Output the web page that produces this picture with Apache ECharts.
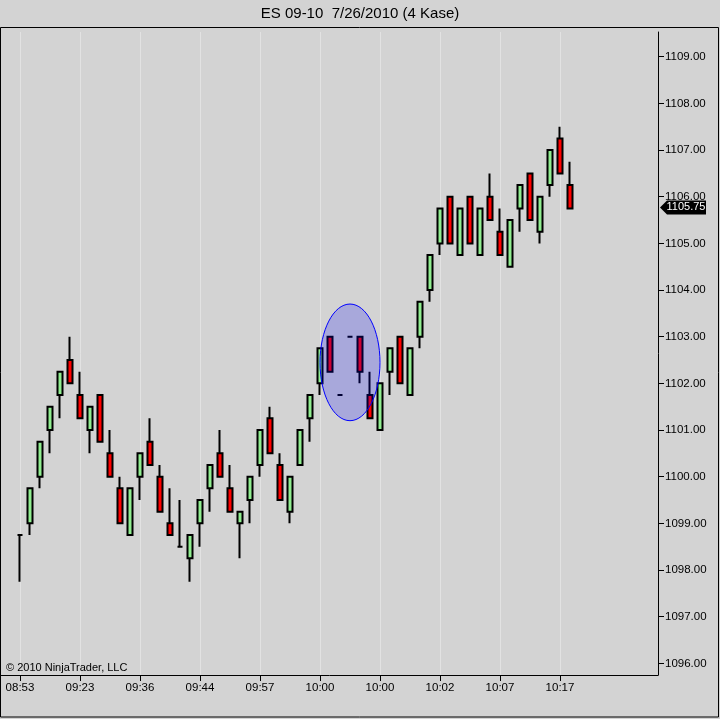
<!DOCTYPE html>
<html style="height: 100%">
<head>
    <meta charset="utf-8">
    <title>ES 09-10 7/26/2010 (4 Kase)</title>
</head>
<body style="height: 100%; margin: 0; background: #d3d3d3;">
    <div id="container" style="width: 720px; height: 719px;"></div>
    <script src="https://cdn.jsdelivr.net/npm/echarts@6/dist/echarts.min.js"></script>
    <script type="text/javascript">
        // 4 Kase bars (open / close / low / high)
        var opens = [1098.75, 1099.00, 1100.00, 1101.00, 1101.75, 1102.50, 1101.75, 1101.00, 1101.75, 1100.50,
            1099.75, 1098.75, 1100.00, 1100.75, 1100.00, 1099.00, 1098.50, 1098.25, 1099.00, 1099.75,
            1100.50, 1099.75, 1099.00, 1099.50, 1100.25, 1101.25, 1100.25, 1099.25, 1100.25, 1101.25,
            1102.00, 1103.00, 1101.75, 1103.00, 1103.00, 1101.75, 1101.00, 1102.25, 1103.00, 1101.75,
            1103.00, 1104.00, 1105.00, 1106.00, 1104.75, 1106.00, 1104.75, 1106.00, 1105.25, 1104.50,
            1105.75, 1106.50, 1105.25, 1106.25, 1107.25, 1106.25];
        var closes = [1098.75, 1099.75, 1100.75, 1101.50, 1102.25, 1102.00, 1101.25, 1101.50, 1100.75, 1100.00,
            1099.00, 1099.75, 1100.50, 1100.25, 1099.25, 1098.75, 1098.50, 1098.75, 1099.50, 1100.25,
            1100.00, 1099.25, 1099.25, 1100.00, 1101.00, 1100.50, 1099.50, 1100.00, 1101.00, 1101.75,
            1102.75, 1102.25, 1101.75, 1103.00, 1102.25, 1101.25, 1102.00, 1102.75, 1102.00, 1102.75,
            1103.75, 1104.75, 1105.75, 1105.00, 1105.75, 1105.00, 1105.75, 1105.50, 1104.75, 1105.50,
            1106.25, 1105.50, 1106.00, 1107.00, 1106.50, 1105.75];
        var lows = [1097.75, 1098.75, 1099.75, 1100.50, 1101.25, 1102.00, 1101.25, 1100.50, 1100.75, 1100.00,
            1099.00, 1098.75, 1099.50, 1100.25, 1099.25, 1098.75, 1098.50, 1097.75, 1098.50, 1099.25,
            1100.00, 1099.25, 1098.25, 1099.00, 1100.00, 1100.50, 1099.50, 1099.00, 1100.25, 1100.75,
            1101.75, 1102.25, 1101.75, 1103.00, 1102.00, 1101.25, 1101.00, 1101.75, 1102.00, 1101.75,
            1102.75, 1103.75, 1104.75, 1105.00, 1104.75, 1105.00, 1104.75, 1105.50, 1104.75, 1104.50,
            1105.25, 1105.50, 1105.00, 1106.00, 1106.50, 1105.75];
        var highs = [1098.75, 1099.75, 1100.75, 1101.50, 1102.25, 1103.00, 1102.25, 1101.50, 1101.75, 1101.00,
            1100.00, 1099.75, 1100.50, 1101.25, 1100.25, 1099.75, 1099.50, 1098.75, 1099.50, 1100.25,
            1101.00, 1100.25, 1099.25, 1100.00, 1101.00, 1101.50, 1100.50, 1100.00, 1101.00, 1101.75,
            1102.75, 1103.00, 1101.75, 1103.00, 1103.00, 1102.25, 1102.00, 1102.75, 1103.00, 1102.75,
            1103.75, 1104.75, 1105.75, 1106.00, 1105.75, 1106.00, 1105.75, 1106.50, 1105.75, 1105.50,
            1106.25, 1106.50, 1106.00, 1107.00, 1107.50, 1106.75];

        // time labels every 6 bars
        var timeTickIndex = [0, 6, 12, 18, 24, 30, 36, 42, 48, 54];
        var timeTickLabels = ['08:53', '09:23', '09:36', '09:44', '09:57', '10:00', '10:00', '10:02', '10:07', '10:17'];
        var priceTicks = [1096, 1097, 1098, 1099, 1100, 1101, 1102, 1103, 1104, 1105, 1106, 1107, 1108, 1109];

        // highlighted area (bar index range, price range)
        var highlightBars = [30, 36];
        var highlightPrices = [1101.2, 1103.7];

        var lastClose = closes[closes.length - 1];
        var xMin = -1.9, xMax = 63.8;
        var yMin = 1095.75, yMax = 1109.53;

        var bars = [];
        for (var i = 0; i < opens.length; i++) {
            bars.push([i, opens[i], closes[i], lows[i], highs[i]]);
        }

        var font = 'Liberation Sans, Arial, sans-serif';
        var dom = document.getElementById('container');
        var myChart = echarts.init(dom);

        var staticGraphics = [{
            id: 'frame',
            type: 'rect',
            silent: true,
            shape: { x: 0.5, y: 27.5, width: 718, height: 689.5 },
            style: { fill: 'none', stroke: '#000', lineWidth: 1 },
            z: 50
        }, {
            id: 'copy',
            type: 'text',
            left: 6,
            top: 662,
            style: { text: '\u00a9 2010 NinjaTrader, LLC', fill: '#000', font: '11px ' + font },
            z: 50
        }];

        var option = {
            backgroundColor: '#d3d3d3',
            animation: false,
            title: {
                text: 'ES 09-10  7/26/2010 (4 Kase)',
                left: 'center',
                top: 1,
                textStyle: { fontSize: 15, fontWeight: 'normal', color: '#000', fontFamily: font }
            },
            grid: { left: 1, right: 62, top: 32, bottom: 44 },
            xAxis: {
                type: 'value',
                min: xMin,
                max: xMax,
                axisLine: { show: true, onZero: false, lineStyle: { color: '#000', width: 1 } },
                axisTick: { show: true, customValues: timeTickIndex, length: 6, lineStyle: { color: '#000' } },
                axisLabel: {
                    customValues: timeTickIndex,
                    margin: 7,
                    color: '#000',
                    fontSize: 11.5,
                    fontFamily: font,
                    formatter: function (v) {
                        return timeTickLabels[timeTickIndex.indexOf(v)];
                    }
                },
                splitLine: { show: true, lineStyle: { color: '#e2e2e2', width: 1 } }
            },
            yAxis: {
                type: 'value',
                position: 'right',
                min: yMin,
                max: yMax,
                scale: true,
                axisLine: { show: true, onZero: false, lineStyle: { color: '#000', width: 1 } },
                axisTick: { show: true, customValues: priceTicks, length: 6, lineStyle: { color: '#000' } },
                axisLabel: {
                    customValues: priceTicks,
                    margin: 7,
                    color: '#000',
                    fontSize: 11.5,
                    fontFamily: font,
                    formatter: function (v) { return v.toFixed(2); }
                },
                splitLine: { show: false }
            },
            series: [{
                type: 'candlestick',
                data: bars,
                barWidth: 5,
                clip: false,
                itemStyle: {
                    color: '#90ee90',
                    color0: '#ff0000',
                    borderColor: '#000',
                    borderColor0: '#000',
                    borderColorDoji: '#000',
                    borderWidth: 2
                },
                markPoint: {
                    silent: true,
                    symbol: 'path://M0,7 L7,0 L46,0 L46,14 L7,14 Z',
                    symbolSize: [46, 14],
                    symbolOffset: [25, -1],
                    itemStyle: { color: '#000' },
                    label: {
                        show: true,
                        position: 'inside',
                        offset: [3, 0],
                        color: '#fff',
                        fontSize: 11,
                        fontFamily: font,
                        formatter: lastClose.toFixed(2)
                    },
                    data: [{ coord: [xMax, lastClose] }]
                }
            }],
            graphic: staticGraphics
        };

        myChart.setOption(option, true);

        // ellipse drawn in data space
        var p0 = myChart.convertToPixel({ gridIndex: 0 }, [highlightBars[0], highlightPrices[1]]);
        var p1 = myChart.convertToPixel({ gridIndex: 0 }, [highlightBars[1], highlightPrices[0]]);
        myChart.setOption({
            graphic: staticGraphics.concat([{
                id: 'highlight',
                type: 'ellipse',
                silent: true,
                shape: {
                    cx: (p0[0] + p1[0]) / 2,
                    cy: (p0[1] + p1[1]) / 2,
                    rx: Math.abs(p1[0] - p0[0]) / 2,
                    ry: Math.abs(p1[1] - p0[1]) / 2
                },
                style: { fill: 'rgba(0,0,255,0.2)', stroke: '#0000ff', lineWidth: 1 },
                z: 100
            }])
        });
    </script>
</body>
</html>
